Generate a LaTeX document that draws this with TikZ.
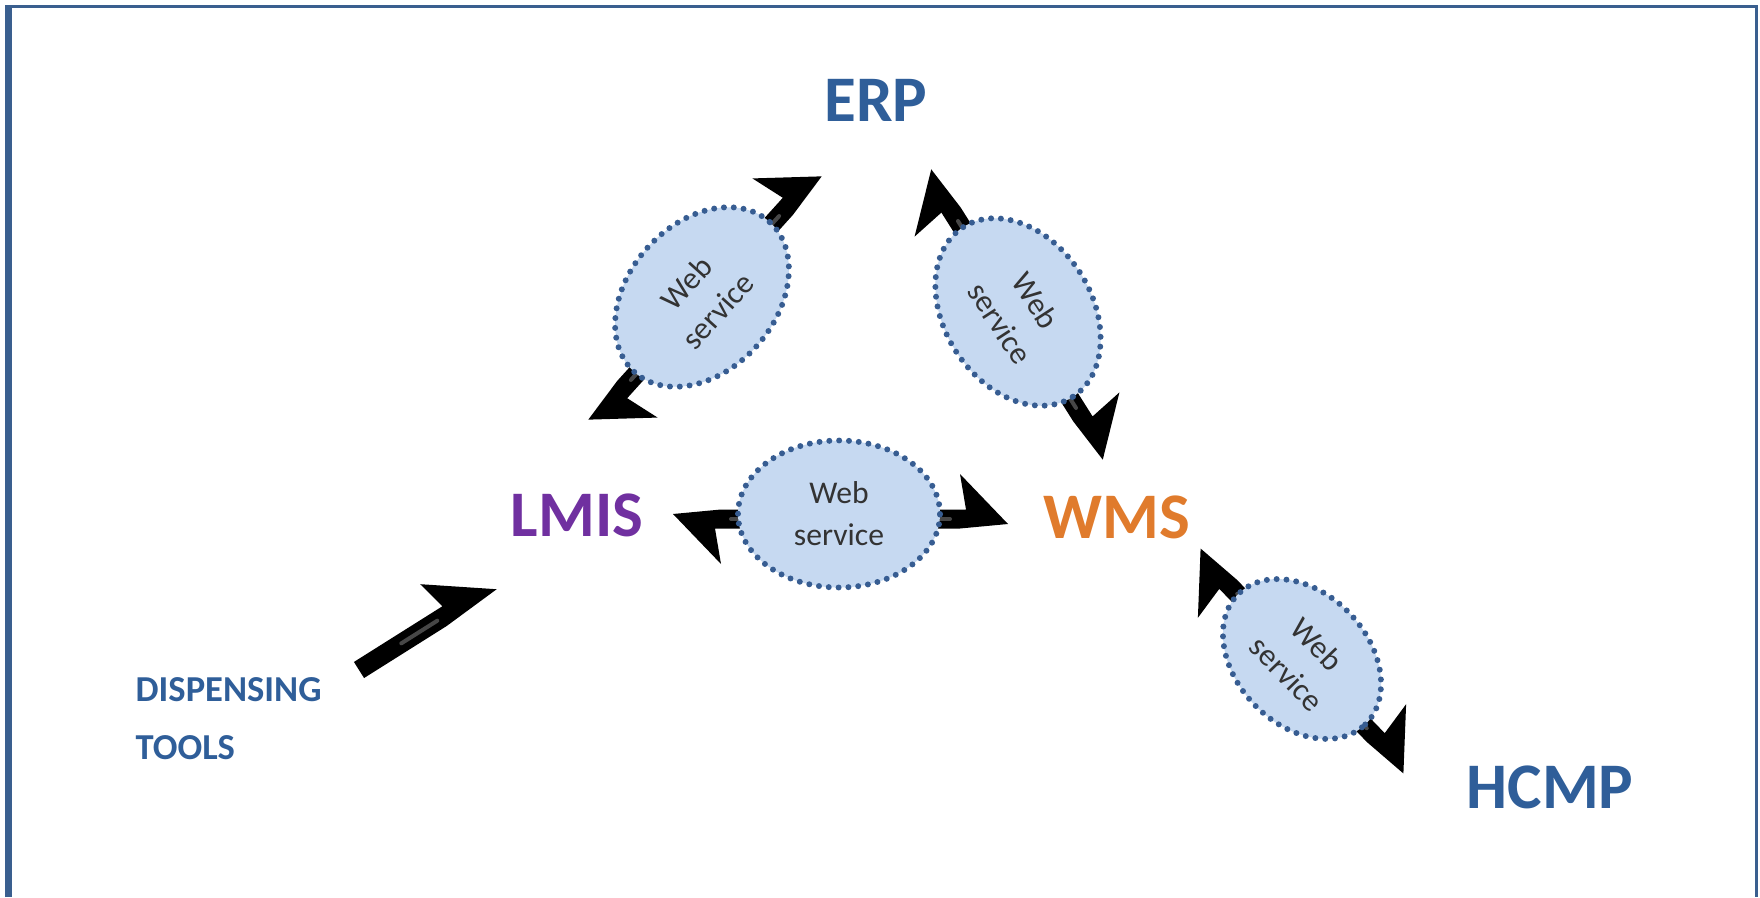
\documentclass[tikz,border=0pt]{standalone}
\usepackage{fontspec}
\setmainfont{Carlito}
\usetikzlibrary{calc,shapes.geometric,positioning}
\definecolor{nframe}{HTML}{3A5F8F}
\definecolor{nblue}{HTML}{2F5E99}
\definecolor{npurple}{HTML}{7030A0}
\definecolor{norange}{HTML}{E07B2C}
\definecolor{nfill}{HTML}{C6D9F1}
\definecolor{ndot}{HTML}{375D92}
\tikzset{
  sysname/.style={font=\bfseries\fontsize{18.5}{22}\selectfont, inner sep=0pt, anchor=base},
  wsbox/.style={ellipse, draw=ndot, fill=nfill, line width=1.7pt, dash pattern=on 0pt off 2.8pt,
    line cap=round, minimum width=2.02cm, minimum height=1.47cm, inner sep=0pt, align=center,
    font=\fontsize{9}{12}\selectfont, text=black!80},
  shine/.style={black!72, line width=0.4mm, line cap=round},
}
% double headed bolt arrow, barbs on the left of each tip
\newcommand{\boltlink}[2]{%
  \coordinate (bs) at ($(#1)!0.48cm!(#2)$);
  \coordinate (bsn) at ($(#1)!0.42cm!(#2)$);
  \coordinate (be) at ($(#2)!0.48cm!(#1)$);
  \coordinate (ben) at ($(#2)!0.42cm!(#1)$);
  \fill ($(#1)!0.05cm!90:(#2)$) -- ($(bs)!0.095cm!90:(#2)$) -- ($(ben)!0.095cm!90:(#2)$)
    -- ($(be)!0.45cm!90:(#2)$) -- ($(#2)!0.05cm!90:(#1)$) -- ($(be)!0.095cm!-90:(#2)$)
    -- ($(bsn)!0.095cm!-90:(#2)$) -- ($(bs)!0.45cm!-90:(#2)$) -- cycle;
  \draw[shine] ($(bs)!0.1cm!(be)$) -- ($(be)!0.1cm!(bs)$);
}
% single headed bolt arrow
\newcommand{\boltfeed}[2]{%
  \coordinate (be) at ($(#2)!0.62cm!(#1)$);
  \coordinate (ben) at ($(#2)!0.55cm!(#1)$);
  \fill ($(#1)!0.095cm!90:(#2)$) -- ($(ben)!0.095cm!90:(#2)$) -- ($(be)!0.40cm!90:(#2)$)
    -- ($(#2)!0.05cm!90:(#1)$) -- ($(be)!0.095cm!-90:(#2)$) -- ($(#1)!0.095cm!-90:(#2)$) -- cycle;
  \draw[shine] ($(#1)!0.5cm!(be)$) -- ($(be)!0.05cm!(#1)$);
}

\begin{document}
\begin{tikzpicture}
 \useasboundingbox (0,0) rectangle (17.6,8.97);
 % frame
 \draw[nframe, line width=0.7mm] (0.085,0) -- (0.085,8.91);
 \draw[nframe, line width=0.3mm] (0.05,8.90) -- (17.565,8.90) -- (17.565,0);

 % systems
 \node[sysname, nblue] (erp) at (8.76,7.75) {ERP};
 \node[sysname, npurple] (lmis) at (5.77,3.60) {LMIS};
 \node[sysname, norange] (wms) at (11.17,3.58) {WMS};
 \node[sysname, nblue] (hcmp) at (15.50,0.89) {HCMP};
 \node[nblue, font=\bfseries\fontsize{10.4}{16.5}\selectfont, inner sep=0pt, anchor=north west,
   align=left] (disp) at (1.35,2.20) {DISPENSING\\TOOLS};

 % arrow ends
 \coordinate (lmisUp) at (5.92,4.74);
 \coordinate (erpLeft) at (8.18,7.24);
 \coordinate (erpRight) at (9.27,7.25);
 \coordinate (wmsUp) at (11.07,4.40);
 \coordinate (lmisRight) at (6.73,3.78);
 \coordinate (wmsLeft) at (10.08,3.78);
 \coordinate (wmsDown) at (11.97,3.45);
 \coordinate (hcmpUp) at (14.07,1.27);
 \coordinate (dispEnd) at (3.59,2.27);
 \coordinate (lmisDown) at (4.94,3.12);

 \boltlink{lmisUp}{erpLeft}
 \boltlink{erpRight}{wmsUp}
 \boltlink{lmisRight}{wmsLeft}
 \boltlink{wmsDown}{hcmpUp}
 \boltfeed{dispEnd}{lmisDown}

 % web services
 \node[wsbox, rotate=48] (wsErpLmis) at (7.02,6.00) {Web\\service};
 \node[wsbox, rotate=-57] (wsErpWms) at (10.18,5.85) {Web\\service};
 \node[wsbox] (wsLmisWms) at (8.39,3.83) {Web\\service};
 \node[wsbox, rotate=-46, minimum width=1.82cm, minimum height=1.32cm] (wsWmsHcmp) at (13.02,2.38) {Web\\service};
\end{tikzpicture}
\end{document}
